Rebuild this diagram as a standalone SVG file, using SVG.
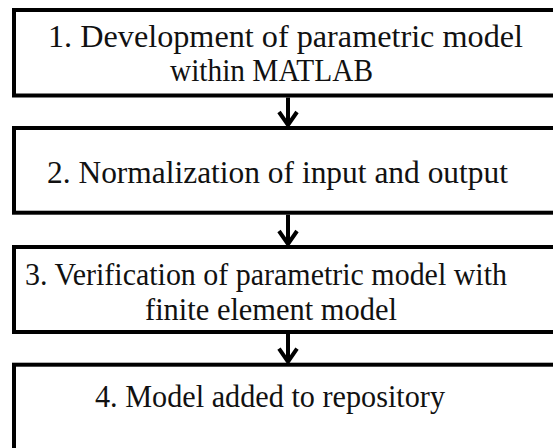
<svg xmlns="http://www.w3.org/2000/svg" width="553" height="448" viewBox="0 0 553 448">
  <style>
    .box { fill: #ffffff; stroke: #000000; stroke-width: 4; }
    .label { font-family: "Liberation Serif", "Times New Roman", serif; font-size: 31px; fill: #111111; }
    .conn { fill: none; stroke: #000000; stroke-width: 4; stroke-linejoin: miter; }
  </style>
  <rect width="553" height="448" fill="#ffffff"/>

  <g id="step1">
    <rect class="box" x="14" y="10" width="556" height="85.5"/>
    <text class="label" x="48" y="46.5" textLength="475" lengthAdjust="spacingAndGlyphs">1. Development of parametric model</text>
    <text class="label" x="170" y="81" textLength="203" lengthAdjust="spacingAndGlyphs">within MATLAB</text>
  </g>

  <g id="step2">
    <rect class="box" x="14" y="128" width="556" height="84.7"/>
    <text class="label" x="47" y="182.5" textLength="461" lengthAdjust="spacingAndGlyphs">2. Normalization of input and output</text>
  </g>

  <g id="step3">
    <rect class="box" x="14" y="247" width="556" height="85"/>
    <text class="label" x="25" y="285" textLength="482" lengthAdjust="spacingAndGlyphs">3. Verification of parametric model with</text>
    <text class="label" x="145" y="320" textLength="252" lengthAdjust="spacingAndGlyphs">finite element model</text>
  </g>

  <g id="step4">
    <rect class="box" x="14" y="364.7" width="556" height="100"/>
    <text class="label" x="95" y="407" textLength="350" lengthAdjust="spacingAndGlyphs">4. Model added to repository</text>
  </g>

  <g id="connectors">
    <line class="conn" x1="288" y1="97.5" x2="288" y2="125"/>
    <polyline class="conn" points="279,112 288,125 297,112"/>
    <line class="conn" x1="288" y1="214.7" x2="288" y2="244"/>
    <polyline class="conn" points="279,231 288,244 297,231"/>
    <line class="conn" x1="288" y1="334" x2="288" y2="361.7"/>
    <polyline class="conn" points="279,348.7 288,361.7 297,348.7"/>
  </g>
</svg>
